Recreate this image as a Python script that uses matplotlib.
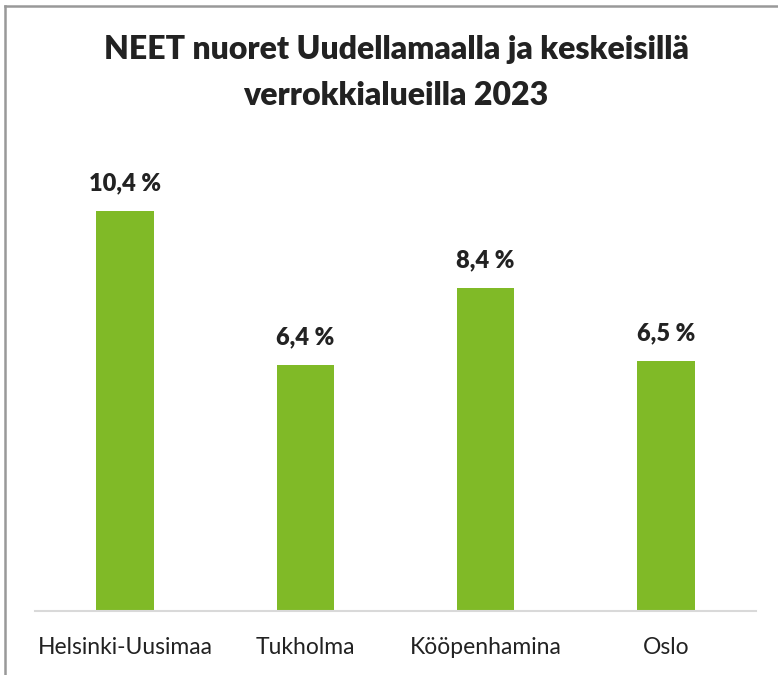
import matplotlib
matplotlib.use("Agg")
import matplotlib.pyplot as plt
from matplotlib.lines import Line2D

categories = ["Helsinki-Uusimaa", "Tukholma", "Kööpenhamina", "Oslo"]
values = [10.4, 6.4, 8.4, 6.5]
value_labels = ["10,4 %", "6,4 %", "8,4 %", "6,5 %"]
title = "NEET nuoret Uudellamaalla ja keskeisillä\nverrokkialueilla 2023"

plt.rcParams['font.family'] = ['Lato', 'DejaVu Sans']

W, H = 778, 675
fig = plt.figure(figsize=(W / 100, H / 100), dpi=100)
fig.patch.set_facecolor("white")

# axes: x 35..756, baseline y=611, top at y=150 (ylim 0..12)
ax = fig.add_axes([35 / W, 1 - 611 / H, (756 - 35) / W, (611 - 150) / H])
x = list(range(len(categories)))
ax.bar(x, values, width=0.32, color="#80BA27", zorder=2)
ax.set_xlim(-0.5, 3.5)
ax.set_ylim(0, 12)
for s in ["top", "right", "left"]:
    ax.spines[s].set_visible(False)
ax.spines["bottom"].set_color("#d9d9d9")
ax.spines["bottom"].set_linewidth(1.5)
ax.set_yticks([])
ax.set_xticks(x)
ax.set_xticklabels(categories, fontsize=16.5, color="#222222")
ax.tick_params(axis="x", length=0, pad=19)
for xi, v, lab in zip(x, values, value_labels):
    ax.annotate(lab, (xi, v), xytext=(0, 12), textcoords="offset points",
                ha="center", va="bottom", fontsize=17, fontweight="heavy",
                color="#222222")

fig.text(396 / W, 1 - 72.5 / H, title, ha="center", va="center", fontsize=23,
         fontweight="heavy", color="#222222", linespacing=1.72)

# border lines (top and left)
fig.add_artist(Line2D([4.5 / W, 1], [1 - 5.5 / H, 1 - 5.5 / H], color="#999999", lw=1.8))
fig.add_artist(Line2D([4.5 / W, 4.5 / W], [0, 1 - 5.5 / H], color="#999999", lw=1.8))

fig.savefig("out.png", dpi=100)
